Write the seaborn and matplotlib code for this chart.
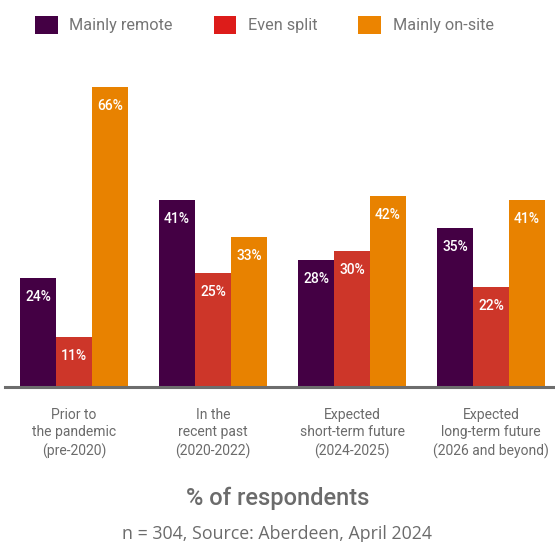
import matplotlib
matplotlib.use("Agg")
import matplotlib.pyplot as plt
import seaborn as sns
import pandas as pd
from matplotlib.patches import Patch

categories = ["Prior to\nthe pandemic\n(pre-2020)",
              "In the\nrecent past\n(2020-2022)",
              "Expected\nshort-term future\n(2024-2025)",
              "Expected\nlong-term future\n(2026 and beyond)"]
series = ["Mainly remote", "Even split", "Mainly on-site"]
mainly_remote = [24, 41, 28, 35]
even_split = [11, 25, 30, 22]
mainly_onsite = [66, 33, 42, 41]

bar_colors = ["#440044", "#CD3629", "#E88200"]
legend_colors = ["#440044", "#DD1C1A", "#EC8400"]

rows = []
for s, vals in zip(series, [mainly_remote, even_split, mainly_onsite]):
    for c, v in zip(categories, vals):
        rows.append({"category": c, "series": s, "value": v})
df = pd.DataFrame(rows)

sns.set_style("white")
plt.rcParams["font.family"] = ["Roboto", "DejaVu Sans"]

fig = plt.figure(figsize=(5.55, 5.42), dpi=100)
ax = fig.add_axes([5 / 555, 1 - 387 / 542, 550 / 555, 70 * 4.55 / 542])

sns.barplot(data=df, x="category", y="value", hue="series", order=categories,
            hue_order=series, palette=bar_colors, width=0.777, dodge=True,
            saturation=1, legend=False, ax=ax, errorbar=None, linewidth=0)

ax.set_ylim(0, 70)
ax.set_xlim(-0.496, 3.46)

for container in ax.containers:
    for bar in container:
        h = bar.get_height()
        ax.annotate(f"{h:.0f}%", (bar.get_x() + bar.get_width() / 2, h),
                    xytext=(0, -19), textcoords="offset pixels",
                    ha="center", va="center", color="white",
                    fontsize=10, fontweight="medium")

for side in ["top", "right", "left"]:
    ax.spines[side].set_visible(False)
ax.spines["bottom"].set_color("#6d6d6d")
ax.spines["bottom"].set_linewidth(2.2)
ax.set_yticks([])
ax.set_xlabel("")
ax.set_ylabel("")
ax.tick_params(axis="x", length=0, pad=15, labelsize=10, labelcolor="#6b6b6b")
for lab in ax.get_xticklabels():
    lab.set_linespacing(1.32)

handles = [Patch(facecolor=c, edgecolor="none") for c in legend_colors]
fig.legend(handles, series, loc="center left", bbox_to_anchor=(35 / 555, 1 - 25 / 542),
           ncol=3, frameon=False, fontsize=11.7, labelcolor="#757575",
           handlelength=1.4, handleheight=1.4, handletextpad=0.72,
           columnspacing=2.5, borderaxespad=0, borderpad=0)

fig.text(0.5, 1 - 498 / 542, "% of respondents", ha="center", va="center",
         fontsize=17, fontweight="medium", color="#6b6b6b")
fig.text(0.5, 1 - 534 / 542, "n = 304, Source: Aberdeen, April 2024", ha="center",
         va="center", fontsize=12.8, color="#6b6b6b", family=["Open Sans", "DejaVu Sans"])

fig.savefig("out.png", dpi=100)
